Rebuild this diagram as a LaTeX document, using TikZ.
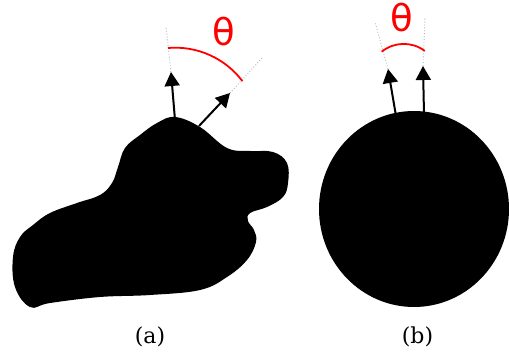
\documentclass[tikz,border=0pt]{standalone}
\usepackage{fontspec}
\newfontfamily\thetafont{DejaVu Sans}
\newfontfamily\capfont{DejaVu Serif}
\usetikzlibrary{arrows.meta}
\tikzset{
  normal/.style={line width=2pt, -{Triangle[length=14pt,width=15pt]}},
  guide/.style={draw=gray!60, line width=0.9pt, dotted},
  anglearc/.style={draw=red, line width=1.8pt},
  thetalbl/.style={text=red, font=\thetafont\fontsize{37}{40}\selectfont, inner sep=0pt},
  caption/.style={font=\capfont\fontsize{22}{26}\selectfont, inner sep=0pt}
}
\begin{document}
\begin{tikzpicture}[x=1pt,y=1pt]
\useasboundingbox (0,0) rectangle (509,354);
% (a) irregular body
\fill[black] plot[smooth cycle, tension=0.65] coordinates {
 (175,237) (200,227) (227,206) (250,203) (273,202) (287,191) (288,171)
 (283,157) (267,147) (250,141) (248,133) (254,124) (256,112) (247,94)
 (227,77) (200,64) (150,59) (100,57) (50,51) (30,47) (15,67) (13,97)
 (20,117) (33,129) (50,141) (77,151) (100,159) (112,171) (118,187)
 (125,206) (140,219) (157,231)};
% (a) normals
\coordinate (a1base) at (175,234);
\coordinate (a1tip) at (171,282);
\coordinate (a1end) at (166,327);
\coordinate (a2base) at (199,228);
\coordinate (a2tip) at (230,261);
\coordinate (a2end) at (263,297);
\draw[guide] (a1tip) -- (a1end);
\draw[guide] (a2tip) -- (a2end);
\draw[normal] (a1base) -- (a1tip);
\draw[normal] (a2base) -- (a2tip);
\coordinate (aarc) at (168,306);
\draw[anglearc] (aarc) arc[start angle=95, end angle=37, radius=84];
\node[thetalbl] (thA) at (224,322) {θ};
% (b) circle
\fill[black] (414,145) ellipse [x radius=95, y radius=98];
\coordinate (b1base) at (396,238);
\coordinate (b1tip) at (388,285);
\coordinate (b1end) at (375,332);
\coordinate (b2base) at (424,240);
\coordinate (b2tip) at (423,288);
\coordinate (b2end) at (425,337);
\draw[guide] (b1tip) -- (b1end);
\draw[guide] (b2tip) -- (b2end);
\draw[normal] (b1base) -- (b1tip);
\draw[normal] (b2base) -- (b2tip);
\coordinate (barc) at (381.7,302.3);
\draw[anglearc] (barc) arc[start angle=129, end angle=53, radius=35];
\node[thetalbl] (thB) at (402,336) {θ};
% captions
\node[caption] (capA) at (150,17.5) {(a)};
\node[caption] (capB) at (417.5,17.5) {(b)};
\end{tikzpicture}
\end{document}
